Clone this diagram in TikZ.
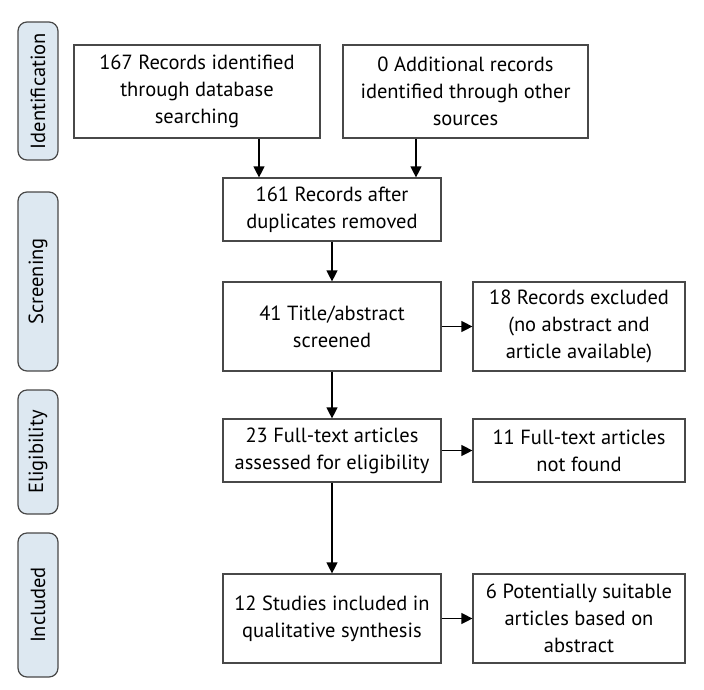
\documentclass[tikz,border=0pt]{standalone}
\usepackage{fontspec}
\setmainfont{PT Sans}
\usetikzlibrary{arrows.meta, calc, positioning}

\begin{document}
\begin{tikzpicture}[x=1pt, y=-1pt]
    \definecolor{stageFill}{RGB}{221,232,241}
    \definecolor{edgeGray}{RGB}{72,72,72}
    \def\mainW{218pt}
    \def\sideW{212pt}
    \def\txtSize{\fontsize{20.5}{27}\selectfont}

    \tikzstyle{block} = [draw=edgeGray, line width=1.2pt, align=center, inner sep=2pt, font=\txtSize]
    \tikzstyle{stage} = [draw=edgeGray, fill=stageFill, line width=1.2pt, rounded corners=9pt, rotate=90, minimum height=40pt, inner sep=2pt, font=\txtSize]
    \tikzstyle{arrow} = [-{Triangle[length=11pt, width=11pt]}, line width=1.2pt]

    \useasboundingbox (0,0) rectangle (704,689);

    % phase labels on the left
    \node (identification) [stage, minimum width=138pt] at (38,91) {Identification};
    \node (screening) [stage, minimum width=179pt] at (38,281.5) {Screening};
    \node (eligibility) [stage, minimum width=124pt] at (38,452) {Eligibility};
    \node (included) [stage, minimum width=144pt] at (38,605) {Included};

    % top row
    \node (dbRecords) [block, minimum width=246pt, minimum height=93pt] at (197,91.5)
        {167 Records identified\\through database\\searching};
    \node (otherRecords) [block, minimum width=245pt, minimum height=93pt] at (465.5,91.5)
        {0 Additional records\\identified through other\\sources};

    % main column
    \node (noDups) [block, minimum width=\mainW, minimum height=63pt] at (332,209.5)
        {161 Records after\\duplicates removed};
    \node (screened) [block, minimum width=\mainW, minimum height=89pt] at (332,326.5)
        {41 Title/abstract\\screened};
    \node (fullText) [block, minimum width=\mainW, minimum height=63pt] at (332,450.5)
        {23 Full-text articles\\assessed for eligibility};
    \node (studies) [block, minimum width=\mainW, minimum height=89pt] at (332,618.5)
        {12 Studies included in\\qualitative synthesis};

    % side column
    \node (excluded) [block, minimum width=\sideW, minimum height=89pt] at (579,326.5)
        {18 Records excluded\\(no abstract and\\article available)};
    \node (notFound) [block, minimum width=\sideW, minimum height=63pt] at (579,450.5)
        {11 Full-text articles\\not found};
    \node (suitable) [block, minimum width=\sideW, minimum height=89pt] at (579,618.5)
        {6 Potentially suitable\\articles based on\\abstract};

    % arrows into the merged records
    \coordinate (dbX) at (259,0);
    \coordinate (otherX) at (416,0);
    \draw [arrow] (dbRecords.south -| dbX) -- (noDups.north -| dbX);
    \draw [arrow] (otherRecords.south -| otherX) -- (noDups.north -| otherX);

    % down the main column
    \draw [arrow] (noDups) -- (screened);
    \draw [arrow] (screened) -- (fullText);
    \draw [arrow] (fullText) -- (studies);

    % out to the side
    \draw [arrow] (screened) -- (excluded);
    \draw [arrow] (fullText) -- (notFound);
    \draw [arrow] (studies) -- (suitable);
\end{tikzpicture}
\end{document}
